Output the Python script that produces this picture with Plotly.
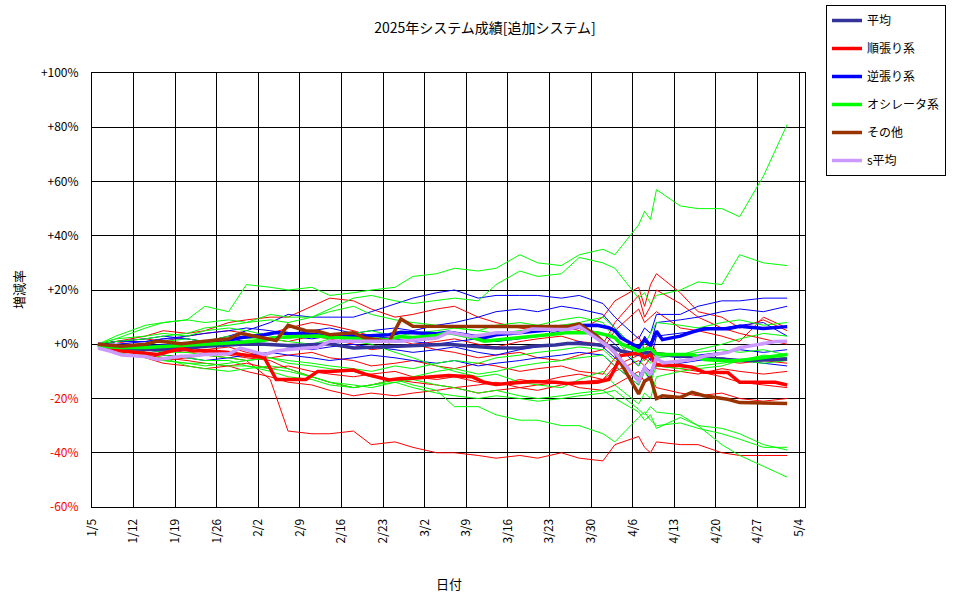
import plotly.graph_objects as go

# ---------------- data ----------------
# dates for the thin (individual system) lines
DATES_T = ["2025-01-06", "2025-01-09", "2025-01-14", "2025-01-17", "2025-01-21", "2025-01-24",
           "2025-01-28", "2025-01-31", "2025-02-04", "2025-02-07", "2025-02-11", "2025-02-14",
           "2025-02-18", "2025-02-21", "2025-02-25", "2025-02-28", "2025-03-04", "2025-03-07",
           "2025-03-11", "2025-03-14", "2025-03-18", "2025-03-21", "2025-03-25", "2025-03-28",
           "2025-04-01", "2025-04-03", "2025-04-07", "2025-04-08", "2025-04-09", "2025-04-10",
           "2025-04-14", "2025-04-17", "2025-04-21", "2025-04-24", "2025-04-28", "2025-05-02"]

# dates for the thick (group average) lines
DATES_K = ["2025-01-06", "2025-01-08", "2025-01-10", "2025-01-14", "2025-01-16", "2025-01-20",
           "2025-01-22", "2025-01-24", "2025-01-28", "2025-01-30", "2025-02-03", "2025-02-05",
           "2025-02-07", "2025-02-10", "2025-02-12", "2025-02-14", "2025-02-18", "2025-02-20",
           "2025-02-24", "2025-02-26", "2025-02-28", "2025-03-04", "2025-03-06", "2025-03-10",
           "2025-03-12", "2025-03-14", "2025-03-18", "2025-03-20", "2025-03-24", "2025-03-26",
           "2025-03-28", "2025-03-31", "2025-04-02", "2025-04-03", "2025-04-04", "2025-04-07",
           "2025-04-08", "2025-04-09", "2025-04-10", "2025-04-11", "2025-04-14", "2025-04-16",
           "2025-04-18", "2025-04-22", "2025-04-24", "2025-04-28", "2025-04-30", "2025-05-02"]

# thin red lines (順張り系 individual systems), %
R1 = [0, -2, -3, -4, -5, -4, -5, -6, -13, -32, -33, -33, -32, -37, -36, -38, -40, -40, -41, -42,
      -41, -42, -40, -42, -43, -37, -34, -38, -40, -36, -37, -37, -40, -41, -41, -41]
R2 = [0, 1, 3, 5, 4, 5, 8, 9, 10, 10, 14, 17, 16, 13, 10, 11, 13, 14, 10, 8,
      6, 5, 7, 5, 10, 16, 21, 14, 22, 26, 19, 12, 10, 6, 9, 5]
R3 = [0, -1, -2, -1, 0, 1, 2, 3, 4, 6, 8, 7, 5, 3, 2, 0, -2, -3, -5, -4,
      -3, -5, -6, -4, -2, 5, 13, 8, 10, 12, 6, 5, 3, 1, 10, 6]
R4 = [0, -2, -4, -5, -6, -7, -8, -7, -9, -8, -10, -11, -12, -11, -10, -12, -13, -12, -14, -15,
      -13, -14, -12, -11, -13, -10, -6, -8, -5, -9, -10, -11, -9, -10, -11, -10]
R5 = [0, -3, -5, -7, -8, -9, -8, -10, -12, -14, -15, -17, -19, -18, -19, -18, -17, -16, -18, -17,
      -16, -15, -14, -16, -17, -15, -10, -14, -12, -16, -18, -19, -18, -20, -21, -20]
R6 = [0, 1, -1, -2, -3, -2, -1, -3, -5, -4, -3, -5, -6, -8, -7, -6, -8, -9, -7, -8,
      -10, -9, -8, -10, -11, -5, 3, -2, 1, -3, -4, -5, -6, -7, -6, -7]
R7 = [0, -2, -4, -6, -5, -3, -4, -5, -6, -9, -12, -14, -16, -15, -13, -14, -15, -16, -15, -14,
      -16, -17, -15, -14, -13, -8, -4, -6, -3, -8, -9, -10, -12, -14, -15, -16]
R8 = [0, 1, 2, 1, 3, 4, 5, 4, 2, 1, 3, 2, 0, -2, -1, 0, 1, 2, 0, -1,
      1, 2, 3, 1, 0, 8, 18, 10, 14, 20, 15, 10, 6, 4, 2, 0]

# thin blue lines (逆張り系 individual systems), %
B1 = [0, 1, 2, 3, 2, 1, 3, 5, 8, 11, 10, 10, 10, 12, 15, 17, 19, 20, 17, 18,
      18, 18, 17, 18, 15, 10, 2, 6, 4, 11, 11, 14, 16, 16, 17, 17]
B2 = [0, -1, -2, -3, -2, -1, 0, 1, 2, 3, 2, 3, 4, 5, 6, 5, 7, 8, 10, 12,
      13, 12, 14, 13, 11, 6, -3, 3, 0, 8, 9, 10, 12, 13, 12, 14]
B3 = [0, 0, 1, 2, 2, 1, 2, 1, 0, -1, -2, -1, 0, -1, -2, -3, -2, -1, -3, -4,
      -2, -1, 0, 1, -1, -5, -12, -8, -10, -4, -5, -4, -3, -2, -3, -2]
B4 = [0, -1, -3, -4, -5, -6, -5, -4, -3, -4, -5, -6, -5, -4, -5, -6, -7, -6, -8, -7,
      -6, -5, -4, -3, -4, -8, -15, -10, -13, -6, -7, -6, -5, -6, -7, -8]
B5 = [0, 1, 1, 2, 3, 4, 5, 6, 5, 4, 5, 6, 4, 3, 2, 1, 0, 1, 2, 1,
      2, 3, 5, 6, 4, 0, -8, -3, -6, 3, 4, 5, 6, 7, 8, 3]

# thin green lines (オシレータ系 individual systems), %
G1 = [0, 2, 6, 8, 9, 14, 12, 22, 21, 20, 21, 18, 19, 20, 21, 25, 26, 28, 27, 28,
      33, 30, 29, 33, 35, 33, 44, 49, 46, 57, 51, 50, 50, 47, 62, 81]
G2 = [0, 3, 7, 8, 9, 8, 9, 8, 11, 10, 10, 13, 17, 18, 16, 15, 16, 17, 16, 22,
      27, 25, 26, 32, 30, 28, 17, 19, 15, 18, 20, 23, 22, 33, 30, 29]
G3 = [0, -1, -2, -3, -3, -4, -5, -6, -5, -7, -8, -9, -10, -12, -13, -15, -17, -23, -23, -26,
      -28, -28, -30, -30, -33, -36, -27, -25, -28, -30, -29, -31, -33, -35, -38, -38]
G4 = [0, -2, -3, -4, -5, -6, -6, -8, -9, -10, -12, -14, -15, -16, -14, -13, -15, -16, -18, -17,
      -19, -20, -19, -18, -17, -20, -25, -28, -26, -31, -27, -30, -37, -41, -45, -49]
G5 = [0, -3, -5, -6, -7, -7, -8, -8, -10, -12, -13, -15, -16, -15, -14, -16, -18, -19, -20, -19,
      -20, -21, -20, -19, -18, -17, -24, -26, -23, -25, -26, -30, -31, -33, -37, -39]
G6 = [0, -1, 0, 1, 2, 1, 3, 2, 2, 1, 0, 2, 4, 5, 3, 4, 5, 6, 5, 7,
      8, 7, 9, 10, 8, 2, -8, -5, -7, -3, -4, -2, 0, 2, 4, 3]
G7 = [0, -2, -4, -6, -7, -8, -7, -6, -5, -6, -7, -8, -9, -10, -8, -9, -7, -6, -7, -5,
      -4, -3, -2, -1, -2, -6, -12, -10, -14, -8, -9, -8, -7, -6, -7, -6]
G8 = [0, 2, 3, 4, 3, 5, 6, 5, 3, 2, 4, 3, 1, 0, -3, -5, -8, -10, -12, -11,
      -14, -15, -16, -13, -10, -15, -22, -18, -20, -12, -10, -9, -8, -6, -4, -5]
G9 = [0, -1, -3, -5, -8, -9, -10, -9, -8, -9, -12, -14, -16, -15, -13, -12, -10, -9, -11, -10,
      -8, -7, -6, -5, -4, -8, -15, -10, -12, -5, -4, -3, -2, -3, -2, -4]
G10 = [0, 1, 2, 3, 4, 6, 7, 8, 9, 8, 10, 12, 14, 11, 9, 8, 7, 6, 5, 4,
       5, 6, 7, 8, 10, 6, -3, 0, 4, 8, 7, 6, 8, 9, 7, 8]

# thick lines (group averages), %
AVG = [-0.5, -1, -1.4, -1.9, -1.9, -1.5, -1, -0.7, -0.3, 0, 0, -0.3, -0.5, -0.3, 0, 0.2,
       -1.4, -1.2, -0.8, -0.7, -0.5, 0, 0, -0.7, -1, -1.4, -1.4, -0.7, -0.3, 0.3, 0.3, 0,
       -0.5, -1.5, -2.5, -3.8, -3.2, -3, -3.8, -3.8, -4.3, -4.4, -4.9, -5.5, -6, -5.8, -5.5, -5.4]
TREND = [0, -1.5, -2.5, -3.5, -3.8, -1.6, -2.5, -2.3, -3, -3.8, -4.9, -13, -13, -13, -10, -10,
         -9.5, -11, -13.2, -12.6, -12.5, -12, -11.5, -12, -14, -14.8, -14, -13.7, -14, -14.5, -14.2, -14,
         -13, -9, -4.2, -3.2, -4.9, -3.8, -7.5, -7.7, -7.8, -8.5, -10.3, -10.4, -14, -14, -14, -15]
CONTRA = [0, -0.5, -0.7, -0.7, -0.7, -0.3, 0, 0.5, 1.5, 2.4, 3.5, 4.3, 4, 3.9, 3.5, 3.2,
          3.2, 3, 3.5, 4.4, 4.2, 3.9, 4.4, 3.2, 2.4, 3.5, 4.4, 4.8, 5.5, 6.5, 6.9, 7,
          6.1, 5, 2.4, -1.2, 1.7, -0.5, 4.8, 1.7, 3, 4.5, 5.7, 5.7, 6.6, 5.8, 6, 6.5]
OSC = [-0.7, -1, -1.2, -1.2, -1, -0.7, -0.5, 0, 0.5, 0.7, 1.5, 2.4, 2.8, 3, 3, 2.6,
       2.4, 2, 1.7, 2.8, 2.5, 3.2, 4.3, 2.5, 1.1, 1.5, 2.4, 3, 3.8, 4.3, 4.3, 4.2,
       3.2, 2.4, 0.2, -2.5, -1.9, -1.5, -3.8, -3.8, -3.8, -3.8, -5.6, -6.2, -6, -4.9, -4.2, -3.8]
OTHER = [0, -0.5, -0.7, 0, 1.2, 0.2, 0.7, 1, 2, 4, 2.3, 1.4, 7, 5, 4.8, 3.5,
         4.2, 2.3, 1, 9.3, 6.6, 6.6, 6.6, 6.6, 6.5, 6.5, 6.5, 6.5, 6.5, 6.5, 7.5, 3,
         -1, -3, -7, -18.3, -13.6, -12.3, -20, -19, -19.6, -17.7, -19, -20.3, -21.5, -21.8, -21.8, -21.8]
S_AVG = [-1.4, -2.5, -4, -4.5, -5.6, -4.4, -4.2, -3.8, -3.5, -1.4, -3.8, -2.5, -1.9, -1.5, -1.1, 1.1,
         1.1, 0.8, 1.1, 1.1, 1.5, 2.3, 4.4, 2.9, 3.5, 4.2, 4.2, 5.6, 5.4, 5.4, 6.6, 2,
         -1, -3, -5.6, -13.6, -8.6, -11.2, -4.9, -6.9, -6.2, -5.6, -4.4, -3, -1.3, 0.3, 1, 1.1]

THICK_NAMES = ["平均", "順張り系", "逆張り系", "オシレータ系", "その他", "s平均"]
THICK_COLORS = ["#333399", "#FF0000", "#0000FF", "#00FF00", "#993300", "#CC99FF"]

X_TICKS = ["2025-01-05", "2025-01-12", "2025-01-19", "2025-01-26", "2025-02-02", "2025-02-09",
           "2025-02-16", "2025-02-23", "2025-03-02", "2025-03-09", "2025-03-16", "2025-03-23",
           "2025-03-30", "2025-04-06", "2025-04-13", "2025-04-20", "2025-04-27", "2025-05-04"]
X_LABELS = ["1/5", "1/12", "1/19", "1/26", "2/2", "2/9", "2/16", "2/23", "3/2", "3/9",
            "3/16", "3/23", "3/30", "4/6", "4/13", "4/20", "4/27", "5/4"]
Y_TICKS = [-60, -40, -20, 0, 20, 40, 60, 80, 100]
Y_LABELS = ["<span style='color:#FF0000'>-60%</span>", "<span style='color:#FF0000'>-40%</span>",
            "<span style='color:#FF0000'>-20%</span>", "+0%", "+20%", "+40%", "+60%", "+80%", "+100%"]

# ---------------- figure ----------------
FONT = "Noto Sans CJK JP, Noto Sans, sans-serif"
fig = go.Figure()

thin_groups = [("#FF0000", [R1, R2, R3, R4, R5, R6, R7, R8]),
               ("#0000FF", [B1, B2, B3, B4, B5]),
               ("#00FF00", [G1, G2, G3, G4, G5, G6, G7, G8, G9, G10])]
for color, series in thin_groups:
    for s in series:
        fig.add_trace(go.Scatter(x=DATES_T, y=s, mode="lines",
                                 line=dict(color=color, width=1),
                                 showlegend=False, hoverinfo="skip"))

for name, color, vals in zip(THICK_NAMES, THICK_COLORS, [AVG, TREND, CONTRA, OSC, OTHER, S_AVG]):
    fig.add_trace(go.Scatter(x=DATES_K, y=vals, mode="lines", name=name,
                             legendgroup=name,
                             line=dict(color=color, width=3.5)))

fig.update_layout(
    width=970, height=599,
    margin=dict(l=92, r=165, t=73, b=92, autoexpand=False),
    paper_bgcolor="white", plot_bgcolor="white",
    font=dict(family=FONT, size=12, color="black"),
    title=dict(text="2025年システム成績[追加システム]", x=0.5, xref="container", xanchor="center",
               y=1 - 28 / 599, yref="container", yanchor="middle",
               font=dict(family=FONT, size=14, color="black")),
    showlegend=True,
    legend=dict(x=(826 - 92) / 713, y=(507 - 5) / 434,
                xanchor="left", yanchor="top",
                bordercolor="black", borderwidth=1, bgcolor="white",
                font=dict(family=FONT, size=12, color="black"),
                tracegroupgap=9, traceorder="grouped",
                entrywidth=88, entrywidthmode="pixels"),
    xaxis=dict(type="date", range=["2025-01-05", "2025-05-05"],
               tickmode="array", tickvals=X_TICKS, ticktext=X_LABELS, tickangle=-90,
               showgrid=True, gridcolor="black", gridwidth=1,
               showline=True, linecolor="black", linewidth=1, mirror=True,
               zeroline=False, ticks="", ticklabelstandoff=6,
               tickfont=dict(family=FONT, size=12, color="black")),
    yaxis=dict(range=[-60, 100], tickmode="array", tickvals=Y_TICKS, ticktext=Y_LABELS,
               showgrid=True, gridcolor="black", gridwidth=1,
               showline=True, linecolor="black", linewidth=1, mirror=True,
               zeroline=False, ticks="", ticklabelstandoff=10,
               tickfont=dict(family=FONT, size=12, color="black")),
    annotations=[
        dict(text="日付", xref="paper", yref="paper", x=0.5, y=0, xanchor="center",
             yanchor="middle", yshift=-76, showarrow=False,
             font=dict(family=FONT, size=13, color="black")),
        dict(text="増減率", xref="paper", yref="paper", x=0, y=0.5, xanchor="center",
             yanchor="middle", xshift=-74, textangle=-90, showarrow=False,
             font=dict(family=FONT, size=13, color="black")),
    ],
)

fig.write_html("out.html")
